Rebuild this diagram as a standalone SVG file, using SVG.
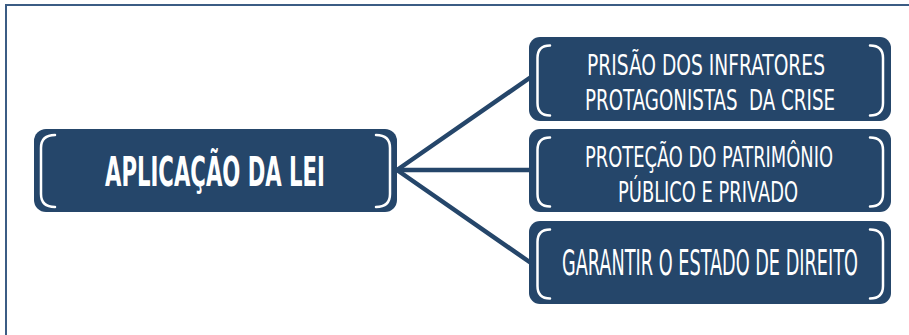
<svg xmlns="http://www.w3.org/2000/svg" width="909" height="335" viewBox="0 0 909 335">
<style>
.box{fill:#25466a}
.br{fill:none;stroke:#ffffff;stroke-width:2.5;stroke-linecap:round}
.t{fill:#ffffff;font-family:"DejaVu Sans Condensed","DejaVu Sans","Liberation Sans",sans-serif;font-stretch:condensed;white-space:pre}
.conn{stroke:#25466a;stroke-width:4.5;fill:none;stroke-linecap:round}
.frame{fill:none;stroke:#3b5c84;stroke-width:2}
</style>
<rect width="909" height="335" fill="#ffffff"/>
<path class="frame" d="M6,336 V5 H910"/>
<g id="connectors">
<line class="conn" x1="397" y1="170" x2="531" y2="77"/>
<line class="conn" x1="397" y1="170" x2="531" y2="170"/>
<line class="conn" x1="397" y1="170" x2="531" y2="263"/>
</g>
<g id="node-aplicacao">
<rect class="box" x="34" y="129" width="363" height="83" rx="12"/>
<path class="br" d="M55,135 Q41,135 41,148 V194 Q41,207 55,207"/>
<path class="br" d="M376,135 Q390,135 390,148 V194 Q390,207 376,207"/>
<text class="t" transform="scale(0.55,1)" x="190.9" y="186" font-size="40" font-weight="bold" textLength="400" lengthAdjust="spacingAndGlyphs">APLICAÇÃO DA LEI</text>
</g>
<g id="node-prisao">
<rect class="box" x="529" y="37" width="362" height="84" rx="11"/>
<path class="br" d="M550,45.5 Q537.5,45.5 537.5,58 V103 Q537.5,115.5 550,115.5"/>
<path class="br" d="M870,45.5 Q883,45.5 883,58 V103 Q883,115.5 870,115.5"/>
<text class="t" transform="scale(0.66,1)" x="889.4" y="75" font-size="28" textLength="360.6" lengthAdjust="spacingAndGlyphs">PRISÃO DOS INFRATORES</text>
<text class="t" transform="scale(0.66,1)" x="886.4" y="110" font-size="28" textLength="378.8" lengthAdjust="spacingAndGlyphs">PROTAGONISTAS  DA CRISE</text>
</g>
<g id="node-protecao">
<rect class="box" x="529" y="129" width="362" height="83" rx="11"/>
<path class="br" d="M550,137.5 Q537.5,137.5 537.5,150 V194 Q537.5,206.5 550,206.5"/>
<path class="br" d="M870,137.5 Q883,137.5 883,150 V194 Q883,206.5 870,206.5"/>
<text class="t" transform="scale(0.66,1)" x="886.4" y="167" font-size="28" textLength="375.8" lengthAdjust="spacingAndGlyphs">PROTEÇÃO DO PATRIMÔNIO</text>
<text class="t" transform="scale(0.66,1)" x="936.4" y="202" font-size="28" textLength="272.7" lengthAdjust="spacingAndGlyphs">PÚBLICO E PRIVADO</text>
</g>
<g id="node-garantir">
<rect class="box" x="529" y="221" width="362" height="83" rx="11"/>
<path class="br" d="M550,229.5 Q537.5,229.5 537.5,242 V286 Q537.5,298.5 550,298.5"/>
<path class="br" d="M870,229.5 Q883,229.5 883,242 V286 Q883,298.5 870,298.5"/>
<text class="t" transform="scale(0.5,1)" x="1124" y="275" font-size="36" textLength="592" lengthAdjust="spacingAndGlyphs">GARANTIR O ESTADO DE DIREITO</text>
</g>
</svg>
